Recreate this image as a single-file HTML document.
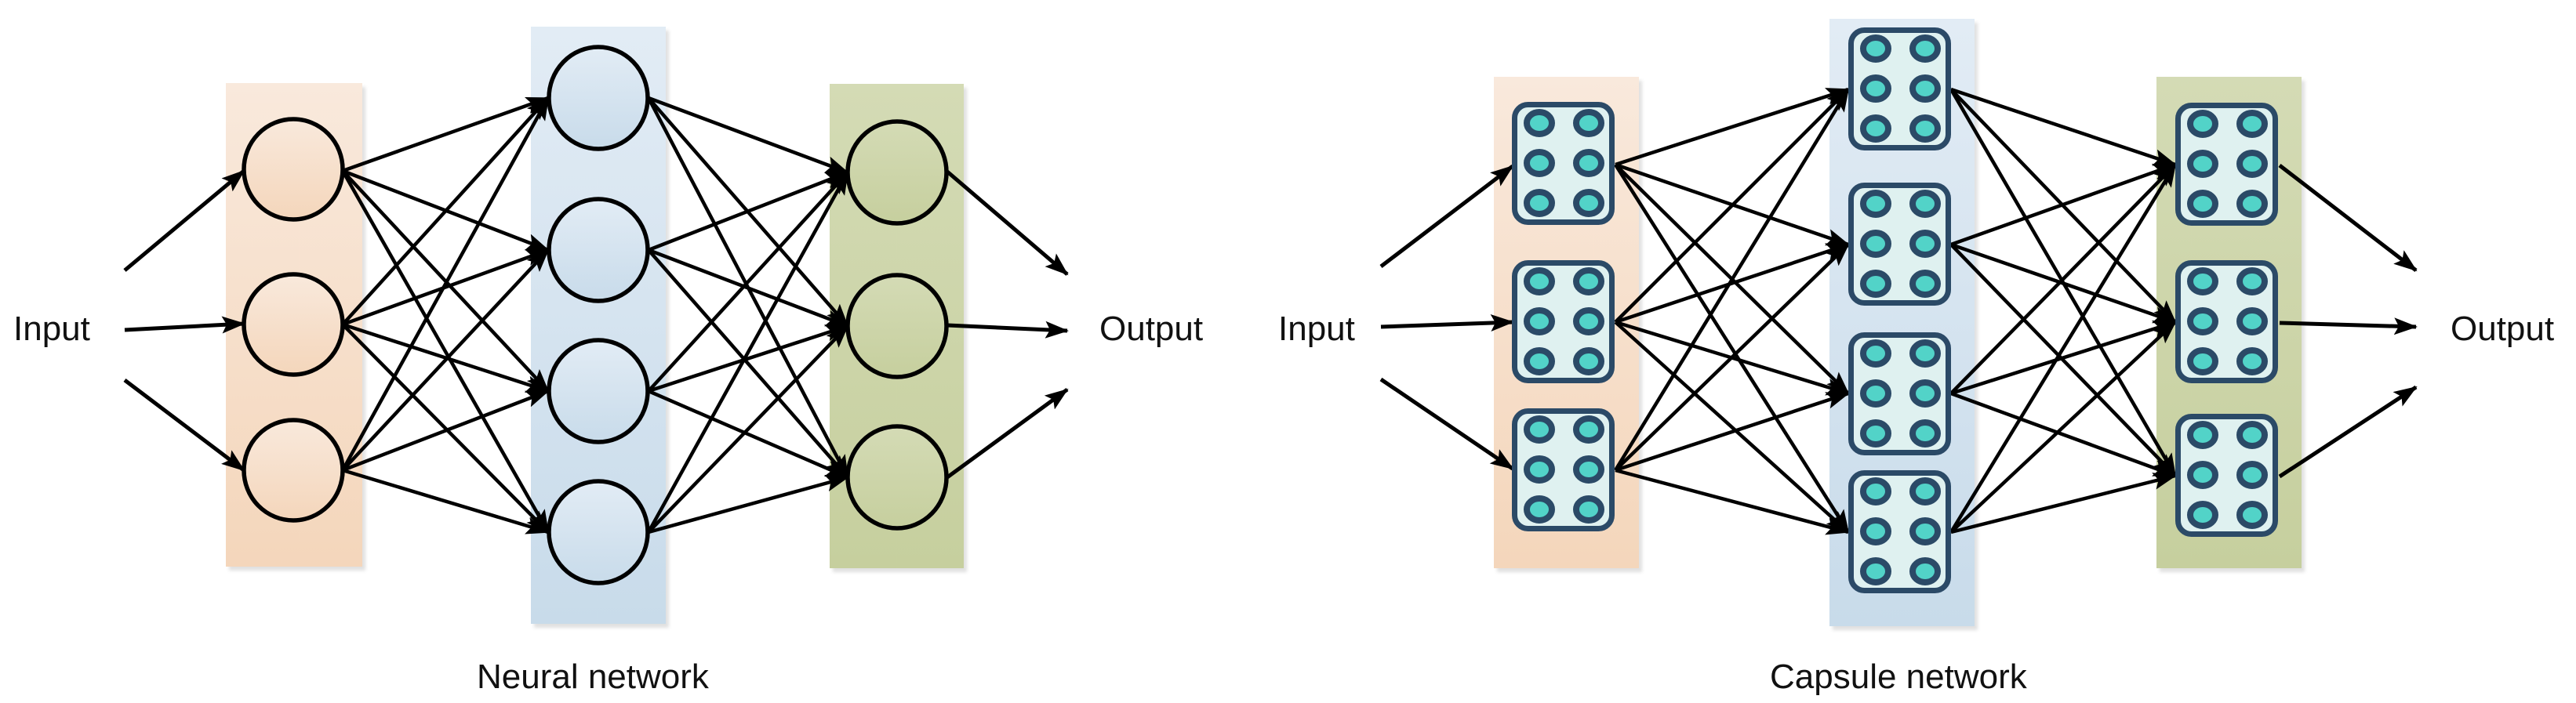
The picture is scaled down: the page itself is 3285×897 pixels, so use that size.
<!DOCTYPE html>
<html><head><meta charset="utf-8"><style>
html,body{margin:0;padding:0;background:#fff}
svg{display:block}
text{font-family:"Liberation Sans",sans-serif;font-size:44px;fill:#111}
</style></head><body>
<svg width="3285" height="897" viewBox="0 0 3285 897" xmlns="http://www.w3.org/2000/svg">
<defs>
<marker id="a" markerUnits="userSpaceOnUse" markerWidth="30" markerHeight="22" refX="28" refY="11" orient="auto">
<path d="M0,0 L30,11 L0,22 L6,11 Z" fill="#000"/></marker>
<linearGradient id="go" x1="0" y1="0" x2="0" y2="1"><stop offset="0" stop-color="#f9e9dc"/><stop offset="1" stop-color="#f4d6bb"/></linearGradient>
<linearGradient id="gb" x1="0" y1="0" x2="0" y2="1"><stop offset="0" stop-color="#e2ecf5"/><stop offset="1" stop-color="#c8dbea"/></linearGradient>
<linearGradient id="gg" x1="0" y1="0" x2="0" y2="1"><stop offset="0" stop-color="#d4dbb5"/><stop offset="1" stop-color="#c6cf9e"/></linearGradient>
<filter id="sh"><feDropShadow dx="4" dy="5" stdDeviation="2" flood-color="#000" flood-opacity="0.12"/></filter>
<g id="cap">
<rect x="3.5" y="3.5" width="124" height="150" rx="17" fill="#dff1f0" stroke="#2b4a67" stroke-width="7"/>
<g fill="#52d3c8" stroke="#2b4a67" stroke-width="8">
<ellipse cx="35" cy="27" rx="16" ry="14"/><ellipse cx="98" cy="27" rx="16" ry="14"/>
<ellipse cx="35" cy="78" rx="16" ry="14"/><ellipse cx="98" cy="78" rx="16" ry="14"/>
<ellipse cx="35" cy="129" rx="16" ry="14"/><ellipse cx="98" cy="129" rx="16" ry="14"/>
</g></g>
</defs>

<rect x="288" y="106" width="174" height="617" fill="url(#go)" filter="url(#sh)"/>
<rect x="677" y="34" width="172" height="762" fill="url(#gb)" filter="url(#sh)"/>
<rect x="1058" y="107" width="171" height="618" fill="url(#gg)" filter="url(#sh)"/>

<g stroke="#000" stroke-width="5" fill="none" marker-end="url(#a)">
<line x1="159" y1="345" x2="311" y2="218"/>
<line x1="159" y1="421" x2="311" y2="413"/>
<line x1="159" y1="485" x2="311" y2="600"/>
<line x1="1208" y1="219" x2="1361" y2="350"/>
<line x1="1208" y1="415" x2="1361" y2="422"/>
<line x1="1208" y1="609" x2="1361" y2="497"/>
</g>
<g stroke="#000" stroke-width="4.5" fill="none" marker-end="url(#a)">
<line x1="437" y1="218" x2="699" y2="125"/><line x1="437" y1="218" x2="699" y2="319"/><line x1="437" y1="218" x2="699" y2="499"/><line x1="437" y1="218" x2="699" y2="679"/>
<line x1="437" y1="414" x2="699" y2="125"/><line x1="437" y1="414" x2="699" y2="319"/><line x1="437" y1="414" x2="699" y2="499"/><line x1="437" y1="414" x2="699" y2="679"/>
<line x1="437" y1="600" x2="699" y2="125"/><line x1="437" y1="600" x2="699" y2="319"/><line x1="437" y1="600" x2="699" y2="499"/><line x1="437" y1="600" x2="699" y2="679"/>
<line x1="827" y1="125" x2="1081" y2="220"/><line x1="827" y1="125" x2="1081" y2="416"/><line x1="827" y1="125" x2="1081" y2="609"/>
<line x1="827" y1="319" x2="1081" y2="220"/><line x1="827" y1="319" x2="1081" y2="416"/><line x1="827" y1="319" x2="1081" y2="609"/>
<line x1="827" y1="499" x2="1081" y2="220"/><line x1="827" y1="499" x2="1081" y2="416"/><line x1="827" y1="499" x2="1081" y2="609"/>
<line x1="827" y1="679" x2="1081" y2="220"/><line x1="827" y1="679" x2="1081" y2="416"/><line x1="827" y1="679" x2="1081" y2="609"/>
</g>
<g stroke="#000" stroke-width="5.5">
<ellipse cx="374" cy="216" rx="63" ry="64" fill="url(#go)"/>
<ellipse cx="374" cy="414" rx="63" ry="64" fill="url(#go)"/>
<ellipse cx="374" cy="600" rx="63" ry="64" fill="url(#go)"/>
<ellipse cx="763" cy="125" rx="63" ry="65" fill="url(#gb)"/>
<ellipse cx="763" cy="319" rx="63" ry="65" fill="url(#gb)"/>
<ellipse cx="763" cy="499" rx="63" ry="65" fill="url(#gb)"/>
<ellipse cx="763" cy="679" rx="63" ry="65" fill="url(#gb)"/>
<ellipse cx="1144" cy="220" rx="63" ry="65" fill="url(#gg)"/>
<ellipse cx="1144" cy="416" rx="63" ry="65" fill="url(#gg)"/>
<ellipse cx="1144" cy="609" rx="63" ry="65" fill="url(#gg)"/>
</g>
<text x="17" y="434">Input</text>
<text x="1402" y="434">Output</text>
<text x="608" y="878">Neural network</text>

<rect x="1905" y="98" width="185" height="627" fill="url(#go)" filter="url(#sh)"/>
<rect x="2333" y="24" width="185" height="775" fill="url(#gb)" filter="url(#sh)"/>
<rect x="2750" y="98" width="185" height="627" fill="url(#gg)" filter="url(#sh)"/>

<g stroke="#000" stroke-width="5" fill="none" marker-end="url(#a)">
<line x1="1761" y1="340" x2="1929" y2="212"/>
<line x1="1761" y1="417" x2="1929" y2="411"/>
<line x1="1761" y1="484" x2="1929" y2="598"/>
<line x1="2907" y1="211" x2="3081" y2="345"/>
<line x1="2907" y1="412" x2="3081" y2="417"/>
<line x1="2907" y1="608" x2="3081" y2="494"/>
</g>
<g stroke="#000" stroke-width="4.5" fill="none" marker-end="url(#a)">
<line x1="2060" y1="210" x2="2357" y2="114"/><line x1="2060" y1="210" x2="2357" y2="312"/><line x1="2060" y1="210" x2="2357" y2="502"/><line x1="2060" y1="210" x2="2357" y2="679"/>
<line x1="2060" y1="411" x2="2357" y2="114"/><line x1="2060" y1="411" x2="2357" y2="312"/><line x1="2060" y1="411" x2="2357" y2="502"/><line x1="2060" y1="411" x2="2357" y2="679"/>
<line x1="2060" y1="600" x2="2357" y2="114"/><line x1="2060" y1="600" x2="2357" y2="312"/><line x1="2060" y1="600" x2="2357" y2="502"/><line x1="2060" y1="600" x2="2357" y2="679"/>
<line x1="2488" y1="114" x2="2774" y2="210"/><line x1="2488" y1="114" x2="2774" y2="411"/><line x1="2488" y1="114" x2="2774" y2="607"/>
<line x1="2488" y1="312" x2="2774" y2="210"/><line x1="2488" y1="312" x2="2774" y2="411"/><line x1="2488" y1="312" x2="2774" y2="607"/>
<line x1="2488" y1="502" x2="2774" y2="210"/><line x1="2488" y1="502" x2="2774" y2="411"/><line x1="2488" y1="502" x2="2774" y2="607"/>
<line x1="2488" y1="679" x2="2774" y2="210"/><line x1="2488" y1="679" x2="2774" y2="411"/><line x1="2488" y1="679" x2="2774" y2="607"/>
</g>
<use href="#cap" x="1928" y="130"/>
<use href="#cap" x="1928" y="332"/>
<use href="#cap" x="1928" y="521"/>
<use href="#cap" x="2357" y="35"/>
<use href="#cap" x="2357" y="233"/>
<use href="#cap" x="2357" y="424"/>
<use href="#cap" x="2357" y="600"/>
<use href="#cap" x="2774" y="131"/>
<use href="#cap" x="2774" y="332"/>
<use href="#cap" x="2774" y="528"/>
<text x="1630" y="434">Input</text>
<text x="3125" y="434">Output</text>
<text x="2257" y="878">Capsule network</text>
</svg>
</body></html>
